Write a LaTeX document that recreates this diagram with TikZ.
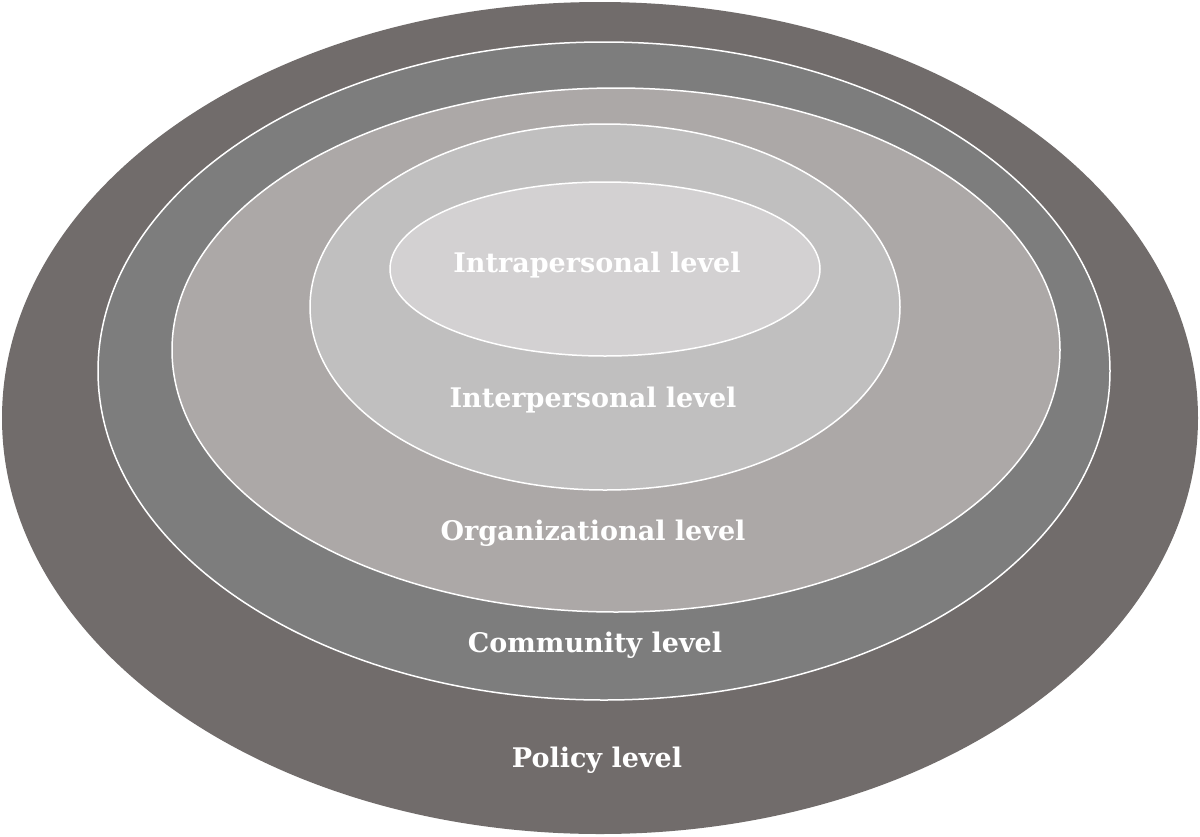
\documentclass[tikz,border=0pt]{standalone}
\usepackage{fontspec}
\setmainfont{DejaVu Serif}
\begin{document}
\begin{tikzpicture}[x=1pt,y=-1pt,
  ring/.style={draw=white,line width=1.5pt},
  lbl/.style={text=white,font=\bfseries\fontsize{27}{30}\selectfont,inner sep=0pt}]
\useasboundingbox (0,0) rectangle (1200,836);
\fill[fill=white] (0,0) rectangle (1200,836);
\fill[fill={rgb,255:red,113;green,108;blue,107}] (600,418) ellipse [x radius=598,y radius=416];
\filldraw[ring,fill={rgb,255:red,125;green,125;blue,125}] (604,371) ellipse [x radius=506,y radius=329];
\filldraw[ring,fill={rgb,255:red,172;green,168;blue,167}] (616,350) ellipse [x radius=444,y radius=262];
\filldraw[ring,fill={rgb,255:red,192;green,191;blue,191}] (605,307) ellipse [x radius=295,y radius=183];
\filldraw[ring,fill={rgb,255:red,211;green,209;blue,210}] (605,269) ellipse [x radius=215,y radius=87];
\node[lbl] (intra) at (597,265) {Intrapersonal level};
\node[lbl] (inter) at (593,400) {Interpersonal level};
\node[lbl] (org) at (593,533) {Organizational level};
\node[lbl] (com) at (595,645) {Community level};
\node[lbl] (pol) at (597,760) {Policy level};
\end{tikzpicture}
\end{document}
